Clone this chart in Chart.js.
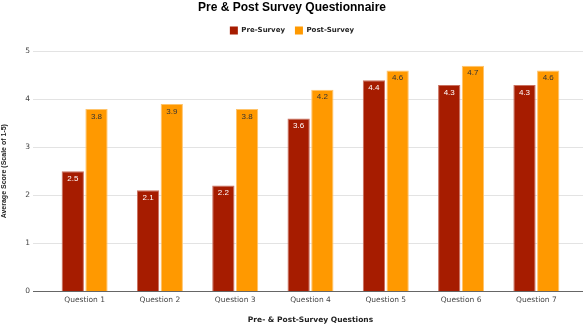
<!DOCTYPE html>
<html>
<head>
<meta charset="utf-8">
<script src="https://cdn.jsdelivr.net/npm/chart.js@4.4.1/dist/chart.umd.min.js"></script>
<style>
  html, body { margin: 0; padding: 0; background: #fff; }
  #wrap { width: 588px; height: 325px; position: relative; }
</style>
</head>
<body>
<div id="wrap"><canvas id="c" width="588" height="325"></canvas></div>
<script>
const questions = ["Question 1", "Question 2", "Question 3", "Question 4", "Question 5", "Question 6", "Question 7"];
const preSurvey = [2.5, 2.1, 2.2, 3.6, 4.4, 4.3, 4.3];
const postSurvey = [3.8, 3.9, 3.8, 4.2, 4.6, 4.7, 4.6];
const yTicks = [0, 1, 2, 3, 4, 5];

const PRE_COLOR = "#a61c00";
const POST_COLOR = "#ff9900";

// Horizontal grid lines run a little past the plot area on both sides
const gridPlugin = {
  id: "wideGrid",
  beforeDatasetsDraw(chart) {
    const { ctx, scales: { y } } = chart;
    ctx.save();
    yTicks.forEach(v => {
      const py = Math.round(y.getPixelForValue(v)) + 0.5;
      ctx.beginPath();
      ctx.strokeStyle = v === 0 ? "#666666" : "#e3e3e3";
      ctx.lineWidth = 1;
      ctx.moveTo(33, py);
      ctx.lineTo(583, py);
      ctx.stroke();
    });
    ctx.restore();
  }
};

// Extra room under the legend, and title/legend centred over the whole canvas
const headerPlugin = {
  id: "headerSpacing",
  beforeLayout(chart) {
    const lg = chart.legend;
    if (lg && !lg._extraSpace) {
      const fit = lg.fit.bind(lg);
      lg.fit = function () { fit(); this.height += 7; };
      lg._extraSpace = true;
    }
  },
  afterLayout(chart) {
    if (chart.titleBlock) chart.titleBlock.right = chart.width - 4;
    if (chart.legend) chart.legend.right = chart.width - 4;
  }
};

// Value labels just inside the top of each bar
const valueLabels = {
  id: "valueLabels",
  afterDatasetsDraw(chart) {
    const { ctx } = chart;
    ctx.save();
    ctx.font = "8px 'Liberation Sans', Arial, sans-serif";
    ctx.textAlign = "center";
    ctx.textBaseline = "middle";
    chart.data.datasets.forEach((ds, di) => {
      const meta = chart.getDatasetMeta(di);
      meta.data.forEach((bar, i) => {
        ctx.fillStyle = di === 0 ? "#ffffff" : "#333333";
        ctx.fillText(ds.data[i].toFixed(1), bar.x, bar.y + 7.5);
      });
    });
    ctx.restore();
  }
};

new Chart(document.getElementById("c"), {
  type: "bar",
  data: {
    labels: questions,
    datasets: [
      { label: "Pre-Survey", data: preSurvey, backgroundColor: PRE_COLOR,
        borderColor: "#c9705f", borderWidth: { top: 1, left: 1, right: 1, bottom: 0 } },
      { label: "Post-Survey", data: postSurvey, backgroundColor: POST_COLOR,
        borderColor: "#ffc46b", borderWidth: { top: 1, left: 1, right: 1, bottom: 0 } }
    ]
  },
  options: {
    responsive: false,
    animation: false,
    devicePixelRatio: 1,
    layout: { padding: { left: 0, right: 14, top: 0, bottom: 0 } },
    datasets: { bar: { categoryPercentage: 0.63, barPercentage: 0.94 } },
    plugins: {
      title: {
        display: true,
        text: "Pre & Post Survey Questionnaire",
        color: "#000000",
        font: { family: "'Liberation Sans', Arial, sans-serif", size: 12, weight: "bold" },
        padding: { top: 0, bottom: 2 }
      },
      legend: {
        display: true,
        position: "top",
        labels: {
          boxWidth: 8,
          boxHeight: 8,
          padding: 10,
          color: "#222222",
          font: { family: "'DejaVu Sans', Verdana, sans-serif", size: 7, weight: "bold" },
          generateLabels(chart) {
            return chart.data.datasets.map((ds, i) => ({
              text: ds.label,
              fillStyle: ds.backgroundColor,
              strokeStyle: ds.backgroundColor,
              lineWidth: 0,
              fontColor: "#222222",
              datasetIndex: i,
              hidden: false
            }));
          }
        }
      },
      tooltip: { enabled: false }
    },
    scales: {
      x: {
        grid: { display: false, drawTicks: false },
        border: { display: false },
        ticks: {
          color: "#444444",
          padding: 5,
          font: { family: "'DejaVu Sans', Verdana, sans-serif", size: 7.5 }
        },
        title: {
          display: true,
          text: "Pre- & Post-Survey Questions",
          color: "#222222",
          font: { family: "'DejaVu Sans', Verdana, sans-serif", size: 7.5, weight: "bold" },
          padding: { top: 8, bottom: 0 }
        },
        afterFit(scale) { scale.height = 34; }
      },
      y: {
        min: 0,
        max: 5,
        grid: { display: false, drawTicks: false },
        border: { display: false },
        ticks: {
          stepSize: 1,
          color: "#444444",
          padding: 17,
          font: { family: "'DejaVu Sans', Verdana, sans-serif", size: 7.5 }
        },
        title: {
          display: true,
          text: "Average Score (Scale of 1-5)",
          color: "#222222",
          font: { family: "'Liberation Sans', Arial, sans-serif", size: 7, weight: "bold" },
          padding: { top: 0, bottom: 0 }
        },
        afterFit(scale) { scale.width = 47; }
      }
    }
  },
  plugins: [gridPlugin, headerPlugin, valueLabels]
});
</script>
</body>
</html>
